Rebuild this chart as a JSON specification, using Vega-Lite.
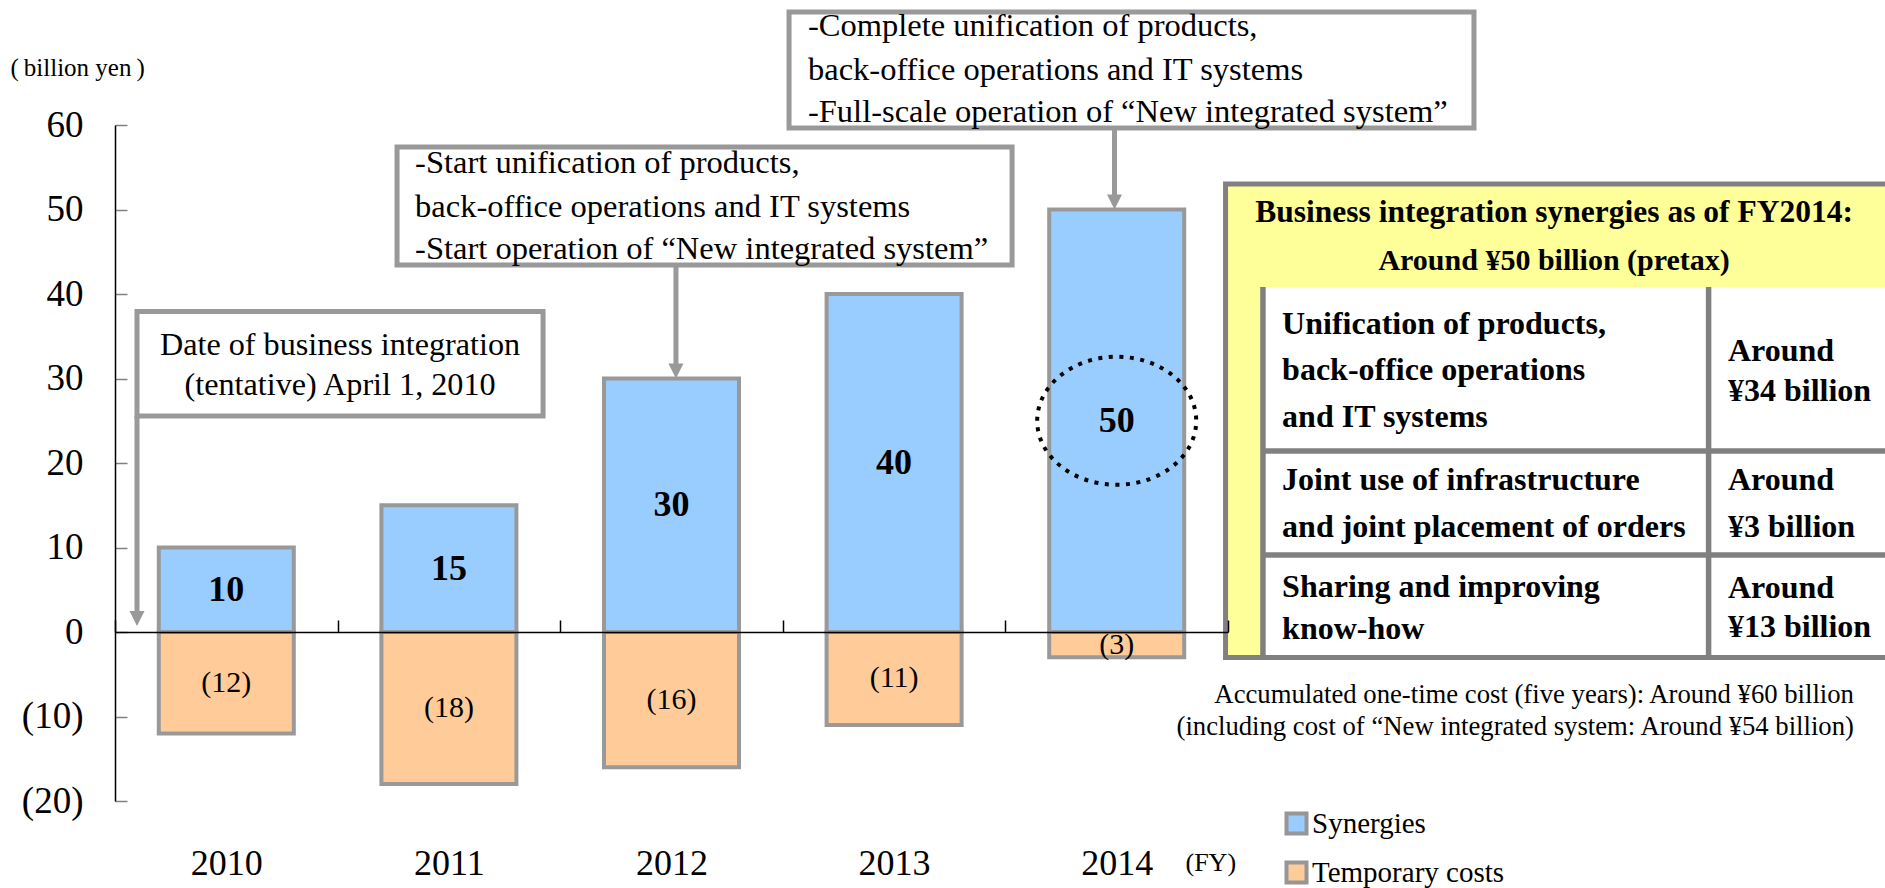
{
  "$schema": "https://vega.github.io/schema/vega-lite/v6.json",
  "width": 1113,
  "height": 676,
  "autosize": {"type": "none"},
  "padding": {"left": 115, "top": 125, "right": 657, "bottom": 87},
  "background": "white",
  "config": {"view": {"stroke": null}, "font": "Liberation Serif", "text": {"font": "Liberation Serif", "color": "#000000", "baseline": "middle"}},
  "datasets": {
    "fy": [
      {"year": "2010", "type": "Synergies", "value": 10},
      {"year": "2010", "type": "Temporary costs", "value": -12},
      {"year": "2011", "type": "Synergies", "value": 15},
      {"year": "2011", "type": "Temporary costs", "value": -18},
      {"year": "2012", "type": "Synergies", "value": 30},
      {"year": "2012", "type": "Temporary costs", "value": -16},
      {"year": "2013", "type": "Synergies", "value": 40},
      {"year": "2013", "type": "Temporary costs", "value": -11},
      {"year": "2014", "type": "Synergies", "value": 50},
      {"year": "2014", "type": "Temporary costs", "value": -3}
    ],
    "one": [{}]
  },
  "layer": [
    {
      "data": {"name": "fy"},
      "mark": {"type": "bar", "stroke": "#999999", "strokeWidth": 4, "width": {"band": 0.6065}},
      "encoding": {
        "x": {"field": "year", "type": "ordinal", "scale": {"domain": ["2010", "2011", "2012", "2013", "2014"], "paddingInner": 0, "paddingOuter": 0},
          "axis": {"orient": "bottom", "offset": -169, "labels": false, "title": null, "tickBand": "extent", "tickSize": -12, "tickColor": "#000000", "tickWidth": 1.5, "domainColor": "#000000", "domainWidth": 1.5, "zindex": 1, "grid": false}},
        "y": {"field": "value", "type": "quantitative", "stack": null, "scale": {"domain": [-20, 60], "nice": false},
          "axis": {"orient": "left", "values": [-20, -10, 0, 10, 20, 30, 40, 50, 60], "labelExpr": "datum.value < 0 ? '(' + (-datum.value) + ')' : datum.value + '\u00a0'", "labelFont": "Liberation Serif", "labelFontSize": 37, "labelColor": "#000000", "labelPadding": 44, "labelBaseline": "middle", "tickSize": -12, "tickColor": "#808080", "tickWidth": 1.5, "domainColor": "#000000", "domainWidth": 1.5, "grid": false, "title": "(\u2009billion yen\u2009)", "titleAngle": 0, "titleX": -105, "titleY": -58, "titleAlign": "left", "titleBaseline": "middle", "titleFont": "Liberation Serif", "titleFontSize": 25, "titleFontWeight": "normal", "titleColor": "#000000"}},
        "color": {"field": "type", "type": "nominal", "scale": {"domain": ["Synergies", "Temporary costs"], "range": ["#99CCFF", "#FFCC99"]},
          "legend": {"orient": "none", "legendX": 1167, "legendY": 684, "title": null, "symbolType": "square", "symbolSize": 400, "symbolStrokeColor": "#969696", "symbolStrokeWidth": 4, "symbolOpacity": 1, "labelFont": "Liberation Serif", "labelFontSize": 29, "labelColor": "#000000", "labelOffset": 1, "labelLimit": 500, "rowPadding": 12, "padding": 0}}
      }
    },
    {
      "data": {"name": "fy"},
      "transform": [{"filter": "datum.type === 'Synergies'"}, {"calculate": "datum.value / 2", "as": "mid"}],
      "mark": {"type": "text", "fontSize": 36, "fontWeight": "bold"},
      "encoding": {
        "x": {"field": "year", "type": "ordinal", "scale": {"domain": ["2010", "2011", "2012", "2013", "2014"], "paddingInner": 0, "paddingOuter": 0},
          "axis": {"orient": "bottom", "domain": false, "ticks": false, "tickSize": 0, "labelPadding": 62, "labelBaseline": "middle", "labelFont": "Liberation Serif", "labelFontSize": 36, "labelColor": "#000000", "labelAngle": 0, "grid": false, "title": "(FY)", "titleX": 1070, "titleY": 61, "titleAlign": "left", "titleBaseline": "middle", "titleFont": "Liberation Serif", "titleFontSize": 26, "titleFontWeight": "normal", "titleColor": "#000000"}},
        "y": {"field": "mid", "type": "quantitative", "scale": {"domain": [-20, 60], "nice": false}, "axis": null},
        "text": {"field": "value", "type": "quantitative"}
      }
    },
    {
      "data": {"name": "fy"},
      "transform": [{"filter": "datum.type === 'Temporary costs'"}, {"calculate": "datum.value / 2", "as": "mid"}],
      "mark": {"type": "text", "fontSize": 30},
      "encoding": {
        "x": {"field": "year", "type": "ordinal", "scale": {"domain": ["2010", "2011", "2012", "2013", "2014"], "paddingInner": 0, "paddingOuter": 0}, "axis": null},
        "y": {"field": "mid", "type": "quantitative", "scale": {"domain": [-20, 60], "nice": false}, "axis": null},
        "text": {"field": "value", "type": "quantitative", "format": "(d"}
      }
    },
    {
      "data": {"name": "fy"},
      "transform": [{"filter": "datum.type === 'Synergies' && datum.year === '2014'"}, {"calculate": "datum.value / 2", "as": "mid"}],
      "mark": {"type": "point", "shape": "M-1,0A1,0.805,0,1,1,1,0A1,0.805,0,1,1,-1,0Z", "size": 25281, "filled": false, "stroke": "#000000", "strokeWidth": 4, "strokeDash": [4, 6.5], "opacity": 1},
      "encoding": {
        "x": {"field": "year", "type": "ordinal", "scale": {"domain": ["2010", "2011", "2012", "2013", "2014"], "paddingInner": 0, "paddingOuter": 0}, "axis": null},
        "y": {"field": "mid", "type": "quantitative", "scale": {"domain": [-20, 60], "nice": false}, "axis": null}
      }
    },
    {
      "data": {"name": "one"},
      "mark": {"type": "rect", "fill": "#ffffff", "stroke": "#999999", "strokeWidth": 5},
      "encoding": {
        "x": {"datum": 0.0988, "type": "quantitative", "scale": {"domain": [0, 5], "nice": false, "zero": false}, "axis": null},
        "x2": {"datum": 1.923},
        "y": {"datum": 37.93, "type": "quantitative", "scale": {"domain": [-20, 60], "nice": false}, "axis": null},
        "y2": {"datum": 25.56}
      }
    },
    {
      "data": {"name": "one"},
      "mark": {"type": "rule", "color": "#999999", "strokeWidth": 5},
      "encoding": {
        "x": {"datum": 0.0988, "type": "quantitative", "scale": {"domain": [0, 5], "nice": false, "zero": false}, "axis": null},
        "y": {"datum": 25.56, "type": "quantitative", "scale": {"domain": [-20, 60], "nice": false}, "axis": null},
        "y2": {"datum": 2.4}
      }
    },
    {
      "data": {"name": "one"},
      "mark": {"type": "point", "shape": "M-1,-2L1,-2L0,0Z", "size": 225, "filled": true, "color": "#999999", "strokeWidth": 0, "opacity": 1},
      "encoding": {
        "x": {"datum": 0.0988, "type": "quantitative", "scale": {"domain": [0, 5], "nice": false, "zero": false}, "axis": null},
        "y": {"datum": 0.71, "type": "quantitative", "scale": {"domain": [-20, 60], "nice": false}, "axis": null}
      }
    },
    {
      "data": {"name": "one"},
      "mark": {"type": "rect", "fill": "#ffffff", "stroke": "#999999", "strokeWidth": 5},
      "encoding": {
        "x": {"datum": 1.267, "type": "quantitative", "scale": {"domain": [0, 5], "nice": false, "zero": false}, "axis": null},
        "x2": {"datum": 4.03},
        "y": {"datum": 57.4, "type": "quantitative", "scale": {"domain": [-20, 60], "nice": false}, "axis": null},
        "y2": {"datum": 43.43}
      }
    },
    {
      "data": {"name": "one"},
      "mark": {"type": "rule", "color": "#999999", "strokeWidth": 5},
      "encoding": {
        "x": {"datum": 2.52, "type": "quantitative", "scale": {"domain": [0, 5], "nice": false, "zero": false}, "axis": null},
        "y": {"datum": 43.43, "type": "quantitative", "scale": {"domain": [-20, 60], "nice": false}, "axis": null},
        "y2": {"datum": 31.5}
      }
    },
    {
      "data": {"name": "one"},
      "mark": {"type": "point", "shape": "M-1,-2L1,-2L0,0Z", "size": 225, "filled": true, "color": "#999999", "strokeWidth": 0, "opacity": 1},
      "encoding": {
        "x": {"datum": 2.52, "type": "quantitative", "scale": {"domain": [0, 5], "nice": false, "zero": false}, "axis": null},
        "y": {"datum": 30, "type": "quantitative", "scale": {"domain": [-20, 60], "nice": false}, "axis": null}
      }
    },
    {
      "data": {"name": "one"},
      "mark": {"type": "rect", "fill": "#ffffff", "stroke": "#999999", "strokeWidth": 5},
      "encoding": {
        "x": {"datum": 3.028, "type": "quantitative", "scale": {"domain": [0, 5], "nice": false, "zero": false}, "axis": null},
        "x2": {"datum": 6.105},
        "y": {"datum": 73.37, "type": "quantitative", "scale": {"domain": [-20, 60], "nice": false}, "axis": null},
        "y2": {"datum": 59.64}
      }
    },
    {
      "data": {"name": "one"},
      "mark": {"type": "rule", "color": "#999999", "strokeWidth": 5},
      "encoding": {
        "x": {"datum": 4.49, "type": "quantitative", "scale": {"domain": [0, 5], "nice": false, "zero": false}, "axis": null},
        "y": {"datum": 59.64, "type": "quantitative", "scale": {"domain": [-20, 60], "nice": false}, "axis": null},
        "y2": {"datum": 51.5}
      }
    },
    {
      "data": {"name": "one"},
      "mark": {"type": "point", "shape": "M-1,-2L1,-2L0,0Z", "size": 225, "filled": true, "color": "#999999", "strokeWidth": 0, "opacity": 1},
      "encoding": {
        "x": {"datum": 4.49, "type": "quantitative", "scale": {"domain": [0, 5], "nice": false, "zero": false}, "axis": null},
        "y": {"datum": 50, "type": "quantitative", "scale": {"domain": [-20, 60], "nice": false}, "axis": null}
      }
    },
    {
      "data": {"name": "one"},
      "mark": {"type": "rect", "fill": "#FFFF99", "strokeWidth": 0},
      "encoding": {
        "x": {"datum": 4.989, "type": "quantitative", "scale": {"domain": [0, 5], "nice": false, "zero": false}, "axis": null},
        "x2": {"datum": 8.1},
        "y": {"datum": 53.02, "type": "quantitative", "scale": {"domain": [-20, 60], "nice": false}, "axis": null},
        "y2": {"datum": -3.02}
      }
    },
    {
      "data": {"name": "one"},
      "mark": {"type": "rect", "fill": "#ffffff", "strokeWidth": 0},
      "encoding": {
        "x": {"datum": 5.157, "type": "quantitative", "scale": {"domain": [0, 5], "nice": false, "zero": false}, "axis": null},
        "x2": {"datum": 8.1},
        "y": {"datum": 40.83, "type": "quantitative", "scale": {"domain": [-20, 60], "nice": false}, "axis": null},
        "y2": {"datum": -3.02}
      }
    },
    {
      "data": {"name": "one"},
      "mark": {"type": "rule", "color": "#808080", "strokeWidth": 5.5},
      "encoding": {
        "x": {"datum": 5.157, "type": "quantitative", "scale": {"domain": [0, 5], "nice": false, "zero": false}, "axis": null},
        "y": {"datum": 40.83, "type": "quantitative", "scale": {"domain": [-20, 60], "nice": false}, "axis": null},
        "y2": {"datum": -3.02}
      }
    },
    {
      "data": {"name": "one"},
      "mark": {"type": "rule", "color": "#808080", "strokeWidth": 5.5},
      "encoding": {
        "x": {"datum": 7.159, "type": "quantitative", "scale": {"domain": [0, 5], "nice": false, "zero": false}, "axis": null},
        "y": {"datum": 40.83, "type": "quantitative", "scale": {"domain": [-20, 60], "nice": false}, "axis": null},
        "y2": {"datum": -3.02}
      }
    },
    {
      "data": {"name": "one"},
      "mark": {"type": "rule", "color": "#808080", "strokeWidth": 5.5},
      "encoding": {
        "x": {"datum": 5.157, "type": "quantitative", "scale": {"domain": [0, 5], "nice": false, "zero": false}, "axis": null},
        "x2": {"datum": 8.1},
        "y": {"datum": 21.42, "type": "quantitative", "scale": {"domain": [-20, 60], "nice": false}, "axis": null}
      }
    },
    {
      "data": {"name": "one"},
      "mark": {"type": "rule", "color": "#808080", "strokeWidth": 5.5},
      "encoding": {
        "x": {"datum": 5.157, "type": "quantitative", "scale": {"domain": [0, 5], "nice": false, "zero": false}, "axis": null},
        "x2": {"datum": 8.1},
        "y": {"datum": 9.11, "type": "quantitative", "scale": {"domain": [-20, 60], "nice": false}, "axis": null}
      }
    },
    {
      "data": {"name": "one"},
      "mark": {"type": "rect", "fillOpacity": 0, "stroke": "#808080", "strokeWidth": 5},
      "encoding": {
        "x": {"datum": 4.989, "type": "quantitative", "scale": {"domain": [0, 5], "nice": false, "zero": false}, "axis": null},
        "x2": {"datum": 8.1},
        "y": {"datum": 53.02, "type": "quantitative", "scale": {"domain": [-20, 60], "nice": false}, "axis": null},
        "y2": {"datum": -3.02}
      }
    },
    {"data": {"name": "one"}, "mark": {"type": "text", "text": "Date of business integration", "fontSize": 32.2, "align": "center"},
      "encoding": {"x": {"datum": 1.011, "type": "quantitative", "scale": {"domain": [0, 5], "nice": false, "zero": false}, "axis": null}, "y": {"datum": 33.96, "type": "quantitative", "scale": {"domain": [-20, 60], "nice": false}, "axis": null}}},
    {"data": {"name": "one"}, "mark": {"type": "text", "text": "(tentative) April 1, 2010", "fontSize": 32.2, "align": "center"},
      "encoding": {"x": {"datum": 1.011, "type": "quantitative", "scale": {"domain": [0, 5], "nice": false, "zero": false}, "axis": null}, "y": {"datum": 29.23, "type": "quantitative", "scale": {"domain": [-20, 60], "nice": false}, "axis": null}}},
    {"data": {"name": "one"}, "mark": {"type": "text", "text": "-Start unification of products,", "fontSize": 32.5, "align": "left"},
      "encoding": {"x": {"datum": 1.348, "type": "quantitative", "scale": {"domain": [0, 5], "nice": false, "zero": false}, "axis": null}, "y": {"datum": 55.5, "type": "quantitative", "scale": {"domain": [-20, 60], "nice": false}, "axis": null}}},
    {"data": {"name": "one"}, "mark": {"type": "text", "text": "back-office operations and IT systems", "fontSize": 32.5, "align": "left"},
      "encoding": {"x": {"datum": 1.348, "type": "quantitative", "scale": {"domain": [0, 5], "nice": false, "zero": false}, "axis": null}, "y": {"datum": 50.3, "type": "quantitative", "scale": {"domain": [-20, 60], "nice": false}, "axis": null}}},
    {"data": {"name": "one"}, "mark": {"type": "text", "text": "-Start operation of “New integrated system”", "fontSize": 32.5, "align": "left"},
      "encoding": {"x": {"datum": 1.348, "type": "quantitative", "scale": {"domain": [0, 5], "nice": false, "zero": false}, "axis": null}, "y": {"datum": 45.33, "type": "quantitative", "scale": {"domain": [-20, 60], "nice": false}, "axis": null}}},
    {"data": {"name": "one"}, "mark": {"type": "text", "text": "-Complete unification of products,", "fontSize": 32.5, "align": "left"},
      "encoding": {"x": {"datum": 3.113, "type": "quantitative", "scale": {"domain": [0, 5], "nice": false, "zero": false}, "axis": null}, "y": {"datum": 71.67, "type": "quantitative", "scale": {"domain": [-20, 60], "nice": false}, "axis": null}}},
    {"data": {"name": "one"}, "mark": {"type": "text", "text": "\u00a0back-office operations and IT systems", "fontSize": 32.5, "align": "left"},
      "encoding": {"x": {"datum": 3.113, "type": "quantitative", "scale": {"domain": [0, 5], "nice": false, "zero": false}, "axis": null}, "y": {"datum": 66.54, "type": "quantitative", "scale": {"domain": [-20, 60], "nice": false}, "axis": null}}},
    {"data": {"name": "one"}, "mark": {"type": "text", "text": "-Full-scale operation of “New integrated system”", "fontSize": 32.5, "align": "left"},
      "encoding": {"x": {"datum": 3.113, "type": "quantitative", "scale": {"domain": [0, 5], "nice": false, "zero": false}, "axis": null}, "y": {"datum": 61.56, "type": "quantitative", "scale": {"domain": [-20, 60], "nice": false}, "axis": null}}},
    {"data": {"name": "one"}, "mark": {"type": "text", "text": "Business integration synergies as of FY2014:", "fontSize": 31.5, "fontWeight": "bold", "align": "center"},
      "encoding": {"x": {"datum": 6.465, "type": "quantitative", "scale": {"domain": [0, 5], "nice": false, "zero": false}, "axis": null}, "y": {"datum": 49.59, "type": "quantitative", "scale": {"domain": [-20, 60], "nice": false}, "axis": null}}},
    {"data": {"name": "one"}, "mark": {"type": "text", "text": "Around ¥50 billion (pretax)", "fontSize": 30, "fontWeight": "bold", "align": "center"},
      "encoding": {"x": {"datum": 6.465, "type": "quantitative", "scale": {"domain": [0, 5], "nice": false, "zero": false}, "axis": null}, "y": {"datum": 43.91, "type": "quantitative", "scale": {"domain": [-20, 60], "nice": false}, "axis": null}}},
    {"data": {"name": "one"}, "mark": {"type": "text", "text": "Unification of products,", "fontSize": 32, "fontWeight": "bold", "align": "left"},
      "encoding": {"x": {"datum": 5.243, "type": "quantitative", "scale": {"domain": [0, 5], "nice": false, "zero": false}, "axis": null}, "y": {"datum": 36.45, "type": "quantitative", "scale": {"domain": [-20, 60], "nice": false}, "axis": null}}},
    {"data": {"name": "one"}, "mark": {"type": "text", "text": "back-office operations", "fontSize": 32, "fontWeight": "bold", "align": "left"},
      "encoding": {"x": {"datum": 5.243, "type": "quantitative", "scale": {"domain": [0, 5], "nice": false, "zero": false}, "axis": null}, "y": {"datum": 30.95, "type": "quantitative", "scale": {"domain": [-20, 60], "nice": false}, "axis": null}}},
    {"data": {"name": "one"}, "mark": {"type": "text", "text": "and IT systems", "fontSize": 32, "fontWeight": "bold", "align": "left"},
      "encoding": {"x": {"datum": 5.243, "type": "quantitative", "scale": {"domain": [0, 5], "nice": false, "zero": false}, "axis": null}, "y": {"datum": 25.44, "type": "quantitative", "scale": {"domain": [-20, 60], "nice": false}, "axis": null}}},
    {"data": {"name": "one"}, "mark": {"type": "text", "text": "Around", "fontSize": 32, "fontWeight": "bold", "align": "left"},
      "encoding": {"x": {"datum": 7.246, "type": "quantitative", "scale": {"domain": [0, 5], "nice": false, "zero": false}, "axis": null}, "y": {"datum": 33.25, "type": "quantitative", "scale": {"domain": [-20, 60], "nice": false}, "axis": null}}},
    {"data": {"name": "one"}, "mark": {"type": "text", "text": "¥34 billion", "fontSize": 32, "fontWeight": "bold", "align": "left"},
      "encoding": {"x": {"datum": 7.246, "type": "quantitative", "scale": {"domain": [0, 5], "nice": false, "zero": false}, "axis": null}, "y": {"datum": 28.52, "type": "quantitative", "scale": {"domain": [-20, 60], "nice": false}, "axis": null}}},
    {"data": {"name": "one"}, "mark": {"type": "text", "text": "Joint use of infrastructure", "fontSize": 32, "fontWeight": "bold", "align": "left"},
      "encoding": {"x": {"datum": 5.243, "type": "quantitative", "scale": {"domain": [0, 5], "nice": false, "zero": false}, "axis": null}, "y": {"datum": 17.93, "type": "quantitative", "scale": {"domain": [-20, 60], "nice": false}, "axis": null}}},
    {"data": {"name": "one"}, "mark": {"type": "text", "text": "and joint placement of orders", "fontSize": 32, "fontWeight": "bold", "align": "left"},
      "encoding": {"x": {"datum": 5.243, "type": "quantitative", "scale": {"domain": [0, 5], "nice": false, "zero": false}, "axis": null}, "y": {"datum": 12.43, "type": "quantitative", "scale": {"domain": [-20, 60], "nice": false}, "axis": null}}},
    {"data": {"name": "one"}, "mark": {"type": "text", "text": "Around", "fontSize": 32, "fontWeight": "bold", "align": "left"},
      "encoding": {"x": {"datum": 7.246, "type": "quantitative", "scale": {"domain": [0, 5], "nice": false, "zero": false}, "axis": null}, "y": {"datum": 17.93, "type": "quantitative", "scale": {"domain": [-20, 60], "nice": false}, "axis": null}}},
    {"data": {"name": "one"}, "mark": {"type": "text", "text": "¥3 billion", "fontSize": 32, "fontWeight": "bold", "align": "left"},
      "encoding": {"x": {"datum": 7.246, "type": "quantitative", "scale": {"domain": [0, 5], "nice": false, "zero": false}, "axis": null}, "y": {"datum": 12.43, "type": "quantitative", "scale": {"domain": [-20, 60], "nice": false}, "axis": null}}},
    {"data": {"name": "one"}, "mark": {"type": "text", "text": "Sharing and improving", "fontSize": 32, "fontWeight": "bold", "align": "left"},
      "encoding": {"x": {"datum": 5.243, "type": "quantitative", "scale": {"domain": [0, 5], "nice": false, "zero": false}, "axis": null}, "y": {"datum": 5.33, "type": "quantitative", "scale": {"domain": [-20, 60], "nice": false}, "axis": null}}},
    {"data": {"name": "one"}, "mark": {"type": "text", "text": "know-how", "fontSize": 32, "fontWeight": "bold", "align": "left"},
      "encoding": {"x": {"datum": 5.243, "type": "quantitative", "scale": {"domain": [0, 5], "nice": false, "zero": false}, "axis": null}, "y": {"datum": 0.36, "type": "quantitative", "scale": {"domain": [-20, 60], "nice": false}, "axis": null}}},
    {"data": {"name": "one"}, "mark": {"type": "text", "text": "Around", "fontSize": 32, "fontWeight": "bold", "align": "left"},
      "encoding": {"x": {"datum": 7.246, "type": "quantitative", "scale": {"domain": [0, 5], "nice": false, "zero": false}, "axis": null}, "y": {"datum": 5.21, "type": "quantitative", "scale": {"domain": [-20, 60], "nice": false}, "axis": null}}},
    {"data": {"name": "one"}, "mark": {"type": "text", "text": "¥13 billion", "fontSize": 32, "fontWeight": "bold", "align": "left"},
      "encoding": {"x": {"datum": 7.246, "type": "quantitative", "scale": {"domain": [0, 5], "nice": false, "zero": false}, "axis": null}, "y": {"datum": 0.59, "type": "quantitative", "scale": {"domain": [-20, 60], "nice": false}, "axis": null}}},
    {"data": {"name": "one"}, "mark": {"type": "text", "text": "Accumulated one-time cost (five years): Around ¥60 billion", "fontSize": 26.7, "align": "right"},
      "encoding": {"x": {"datum": 7.812, "type": "quantitative", "scale": {"domain": [0, 5], "nice": false, "zero": false}, "axis": null}, "y": {"datum": -7.46, "type": "quantitative", "scale": {"domain": [-20, 60], "nice": false}, "axis": null}}},
    {"data": {"name": "one"}, "mark": {"type": "text", "text": "(including cost of “New integrated system: Around ¥54 billion)", "fontSize": 26.7, "align": "right"},
      "encoding": {"x": {"datum": 7.812, "type": "quantitative", "scale": {"domain": [0, 5], "nice": false, "zero": false}, "axis": null}, "y": {"datum": -11.24, "type": "quantitative", "scale": {"domain": [-20, 60], "nice": false}, "axis": null}}}
  ],
  "resolve": {"scale": {"x": "independent"}, "axis": {"x": "independent", "y": "independent"}}
}
